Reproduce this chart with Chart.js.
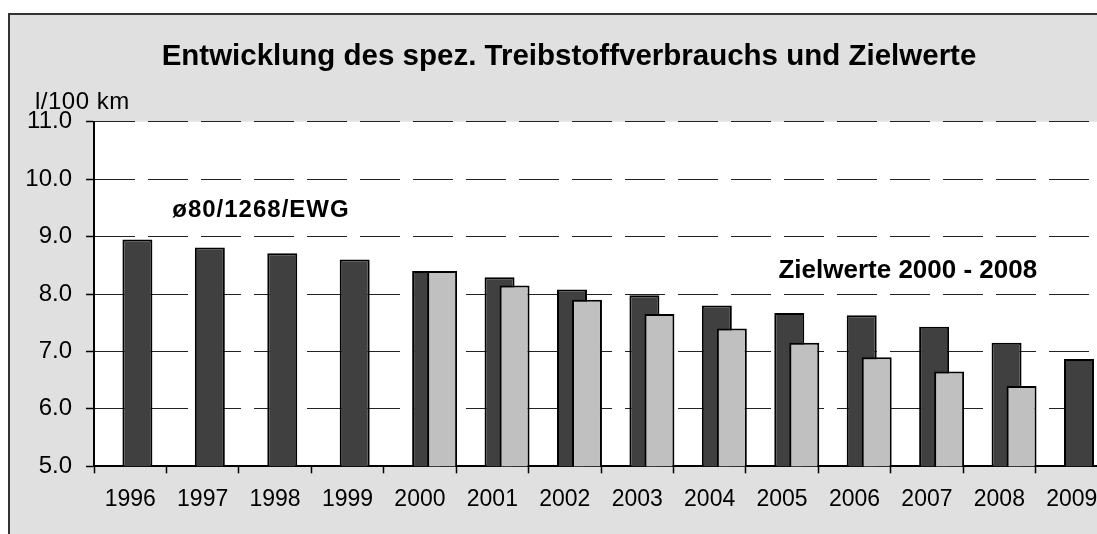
<!DOCTYPE html>
<html>
<head>
<meta charset="utf-8">
<script src="https://cdn.jsdelivr.net/npm/chart.js@4/dist/chart.umd.min.js"></script>
<style>
html,body{margin:0;padding:0;background:#fff;overflow:hidden;width:1097px;height:534px;}
#frame{position:absolute;left:8px;top:13px;border-left:2px solid #333;border-top:2px solid #333;background:#e0e0e0;width:1118px;height:540px;}
canvas{display:block;}
</style>
</head>
<body>
<div id="frame"><canvas id="c" width="1118" height="540"></canvas></div>
<script>
// ---- data ----
const categories = ['1996','1997','1998','1999','2000','2001','2002','2003','2004','2005','2006','2007','2008','2009'];
const consumption = [8.95, 8.81, 8.71, 8.60, 8.40, 8.29, 8.08, 7.98, 7.80, 7.67, 7.63, 7.43, 7.15, 6.87];
const targets = [null, null, null, null, 8.40, 8.15, 7.90, 7.65, 7.40, 7.15, 6.90, 6.65, 6.40, null];
const yTickValues = [5, 6, 7, 8, 9, 10, 11];
const titleText = 'Entwicklung des spez. Treibstoffverbrauchs und Zielwerte';
const unitText = 'l/100 km';
const noteLeft = 'ø80/1268/EWG';
const noteRight = 'Zielwerte 2000 - 2008';

const FONT = "'Liberation Sans', Arial, Helvetica, sans-serif";
Chart.defaults.font.family = FONT;
Chart.defaults.color = '#000';

// annotation placement (in category / value units)
const notes = [
  {text: noteLeft, cat: 1.08, value: 9.34, size: 24, spacing: '1px'},
  {text: noteRight, cat: 9.45, value: 8.28, size: 26, spacing: '0px'}
];

const plotBg = {
  id: 'plotBg',
  beforeDraw(chart) {
    const {ctx, chartArea: a} = chart;
    ctx.save();
    ctx.fillStyle = '#ffffff';
    ctx.fillRect(a.left, a.top, a.right - a.left, a.bottom - a.top);
    ctx.restore();
  }
};

// Excel-like overlapping bars: shift each series by a fraction of its bar width
const overlap = {
  id: 'overlap',
  afterDatasetsUpdate(chart) {
    chart.data.datasets.forEach((ds, i) => {
      const meta = chart.getDatasetMeta(i);
      meta.data.forEach(el => { if (el && isFinite(el.x)) el.x += ds.shiftFrac * el.width; });
    });
  }
};

const texts = {
  id: 'texts',
  afterDatasetsDraw(chart) {
    const {ctx, chartArea: a, scales} = chart;
    const catW = (a.right - a.left) / categories.length;
    ctx.save();
    ctx.fillStyle = '#000';
    // title, centred on the whole chart box
    ctx.font = 'bold 29.5px ' + FONT;
    ctx.textAlign = 'center';
    ctx.textBaseline = 'middle';
    ctx.fillText(titleText, chart.width / 2, 42.2);
    ctx.textBaseline = 'alphabetic';
    ctx.textAlign = 'left';
    ctx.font = '24px ' + FONT;
    if ('letterSpacing' in ctx) ctx.letterSpacing = '0.5px';
    ctx.fillText(unitText, a.left - 59, a.top - 12.7);
    notes.forEach(n => {
      ctx.font = 'bold ' + n.size + 'px ' + FONT;
      if ('letterSpacing' in ctx) ctx.letterSpacing = n.spacing;
      ctx.fillText(n.text, a.left + n.cat * catW, scales.y.getPixelForValue(n.value));
    });
    ctx.restore();
  }
};

new Chart(document.getElementById('c'), {
  type: 'bar',
  data: {
    labels: categories,
    datasets: [
      {
        label: 'ø80/1268/EWG',
        data: consumption,
        backgroundColor: '#404040',
        borderColor: '#000',
        borderWidth: 2,
        grouped: false,
        categoryPercentage: 1,
        barPercentage: 0.414,
        shiftFrac: 0.24,
        order: 2
      },
      {
        label: 'Zielwerte 2000 - 2008',
        data: targets,
        backgroundColor: '#c0c0c0',
        borderColor: '#000',
        borderWidth: 2,
        grouped: false,
        categoryPercentage: 1,
        barPercentage: 0.414,
        shiftFrac: 0.74,
        order: 1
      }
    ]
  },
  options: {
    responsive: false,
    animation: false,
    devicePixelRatio: 1,
    layout: {padding: {left: 0, right: 20, top: 106.7, bottom: 0}},
    plugins: {
      legend: {display: false},
      tooltip: {enabled: false},
      title: {display: false}
    },
    scales: {
      x: {
        type: 'category',
        offset: true,
        grid: {offset: true, drawOnChartArea: false, drawTicks: true, tickLength: 7, tickColor: '#000', tickWidth: 1.5},
        border: {display: true, color: '#000', width: 2},
        ticks: {font: {size: 23}, padding: 13, maxRotation: 0, autoSkip: false, color: '#000'},
        afterFit(scale) { scale.height = 88.7; }
      },
      y: {
        min: 5,
        max: 11,
        afterBuildTicks(scale) { scale.ticks = yTickValues.map(v => ({value: v})); },
        grid: {color: '#222', lineWidth: 1, drawTicks: true, tickLength: 8, tickColor: '#000', tickWidth: 1.5},
        border: {display: true, color: '#000', width: 2, dash: [40, 13]},
        ticks: {font: {size: 24}, padding: 14, color: '#000', callback: v => Number(v).toFixed(1)},
        afterFit(scale) { scale.width = 84; }
      }
    }
  },
  plugins: [plotBg, overlap, texts]
});
</script>
</body>
</html>
